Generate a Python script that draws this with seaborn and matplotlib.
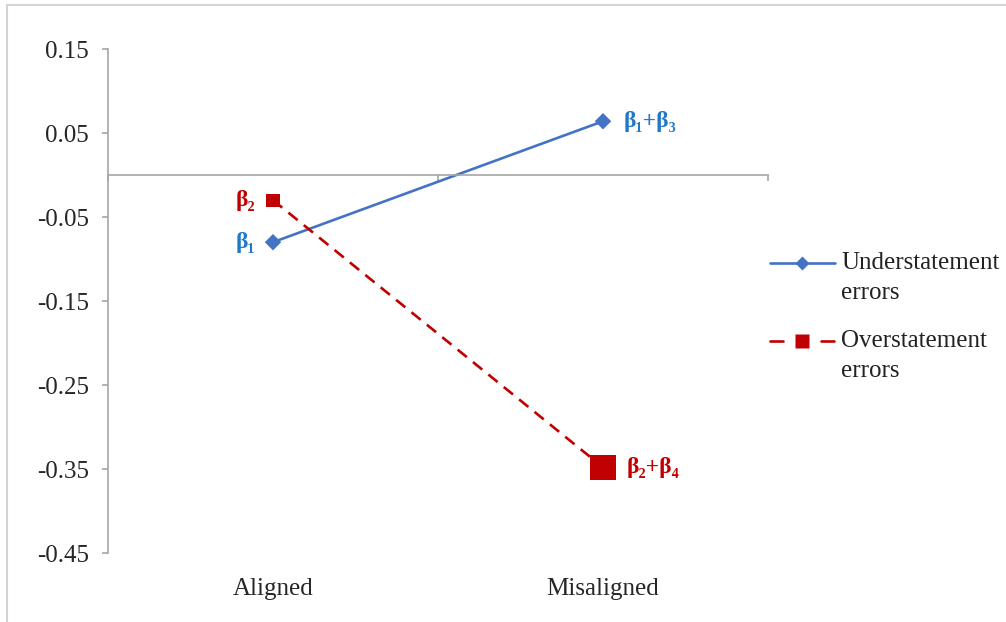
import numpy as np
import pandas as pd
import seaborn as sns
import matplotlib.pyplot as plt
from matplotlib.lines import Line2D
from matplotlib.patches import Rectangle

# values
conditions = ["Aligned", "Misaligned"]
under_coef = [-0.080, 0.064]
over_coef = [-0.030, -0.348]
under_labels = ["β₁", "β₁+β₃"]
over_labels = ["β₂", "β₂+β₄"]
over_size = ["small", "large"]
y_ticks = [0.15, 0.05, -0.05, -0.15, -0.25, -0.35, -0.45]
legend_labels = ["Understatement\nerrors", "Overstatement\nerrors"]

BLUE = "#4472C4"
BLUE_TXT = "#1F78C8"
RED = "#C00000"
GRAY = "#A6A6A6"

W, H = 1006, 622

df = pd.DataFrame({
    "condition": conditions * 2,
    "coef": under_coef + over_coef,
    "type": ["Understatement errors"] * 2 + ["Overstatement errors"] * 2,
    "msize": ["mid", "mid"] + over_size,
})

sns.set_style("white")
plt.rcParams["font.family"] = ["Liberation Serif", "DejaVu Serif"]

fig = plt.figure(figsize=(W / 100, H / 100), dpi=100)
ax = fig.add_axes([108 / W, 1 - 553 / H, 660 / W, 504 / H])

palette = {"Understatement errors": BLUE, "Overstatement errors": RED}
sns.lineplot(data=df, x="condition", y="coef", hue="type", style="type",
             palette=palette,
             dashes={"Understatement errors": "", "Overstatement errors": (4.5, 3)},
             linewidth=1.9, legend=False, ax=ax, sort=False)
sns.scatterplot(data=df, x="condition", y="coef", hue="type", style="type",
                size="msize",
                sizes={"mid": 70, "small": 90, "large": 330},
                markers={"Understatement errors": "D", "Overstatement errors": "s"},
                palette=palette, edgecolor="none", legend=False, ax=ax,
                zorder=5)

# coefficient labels
for i, lab in enumerate(under_labels):
    off = (-18, 0) if i == 0 else (21, 0)
    ax.annotate(lab, (i, under_coef[i]), xytext=off, textcoords="offset pixels",
                ha="right" if i == 0 else "left", va="center",
                color=BLUE_TXT, fontsize=17, fontweight="bold")
for i, lab in enumerate(over_labels):
    off = (-18, 0) if i == 0 else (24, 0)
    ax.annotate(lab, (i, over_coef[i]), xytext=off, textcoords="offset pixels",
                ha="right" if i == 0 else "left", va="center",
                color=RED, fontsize=17, fontweight="bold")

ax.set_xlim(-0.5, 1.5)
ax.set_ylim(-0.45, 0.15)
ax.set_yticks(y_ticks)
ax.set_yticklabels([f"{v:.2f}" for v in y_ticks])
ax.set_xlabel("")
ax.set_ylabel("")

for s in ["top", "right"]:
    ax.spines[s].set_visible(False)
ax.spines["left"].set_color(GRAY)
ax.spines["left"].set_linewidth(1.2)
ax.spines["bottom"].set_position(("data", 0))
ax.spines["bottom"].set_color(GRAY)
ax.spines["bottom"].set_linewidth(1.2)

ax.tick_params(axis="y", direction="out", length=4.5, width=1.2, color=GRAY,
               pad=9, labelsize=18, left=True)
ax.set_xticks([0, 1])
ax.set_xticklabels(conditions)
ax.set_xticks([-0.5, 0.5, 1.5], minor=True)
ax.tick_params(axis="x", which="major", length=0, pad=290, labelsize=18)
ax.tick_params(axis="x", which="minor", direction="out", length=4, width=1.2,
               color=GRAY, bottom=True)

# legend, drawn by hand so the key sits on the first text line
leg_rows = [263, 341]
for row, lab, col in zip(leg_rows, legend_labels, [BLUE, RED]):
    y = 1 - row / H
    if col == BLUE:
        fig.add_artist(Line2D([770 / W, 835 / W], [y, y], color=col, lw=1.9))
        fig.add_artist(Line2D([802 / W], [y], color=col, marker="D", ms=7.5,
                              mec="none", ls="none"))
    else:
        fig.add_artist(Line2D([770 / W, 783 / W], [y, y], color=col, lw=1.9))
        fig.add_artist(Line2D([821 / W, 834 / W], [y, y], color=col, lw=1.9))
        fig.add_artist(Line2D([802 / W], [y], color=col, marker="s", ms=10,
                              mec="none", ls="none"))
    fig.text(841 / W, 1 - (row + 15) / H, lab, fontsize=18, va="center",
             ha="left", linespacing=1.5, color="#222222")

# light frame around the chart area
fig.add_artist(Rectangle((7 / W, -0.1), 1.2, 1.1 - 5 / H,
                         transform=fig.transFigure, fill=False,
                         edgecolor="#D4D4D4", linewidth=1.5))

fig.savefig("out.png", dpi=100)
